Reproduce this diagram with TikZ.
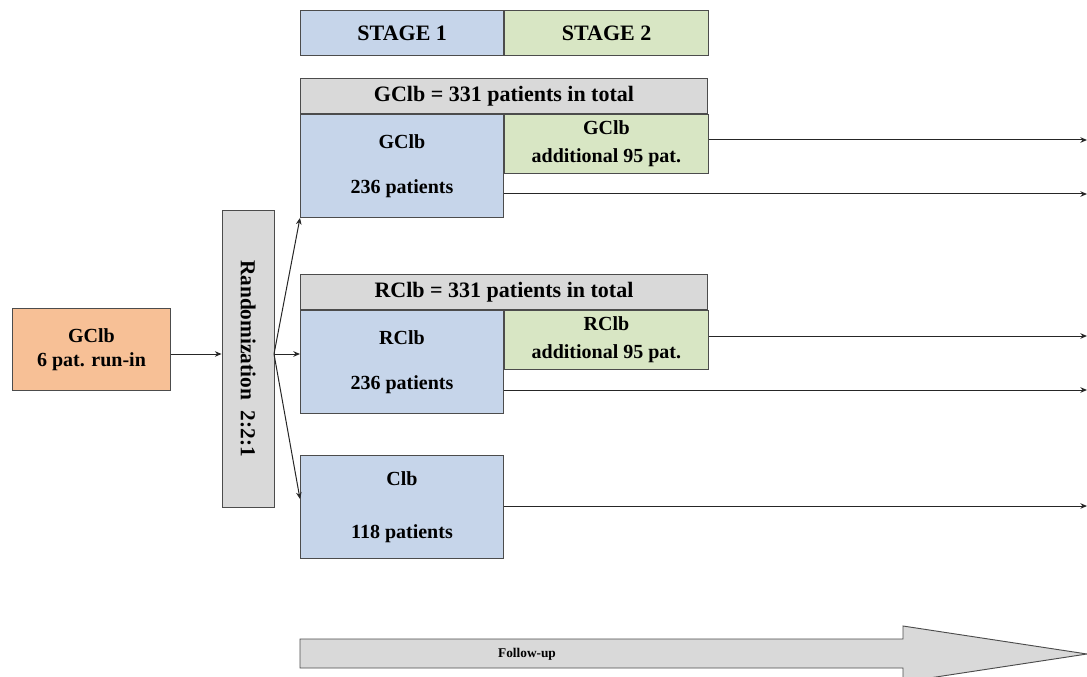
\documentclass[tikz,border=0pt]{standalone}
\usepackage{fontspec}
\setmainfont{Liberation Serif}
\usetikzlibrary{calc,positioning,arrows.meta}
\tikzset{>={Stealth[length=5pt,width=4.2pt]}}
\definecolor{stageblue}{HTML}{C6D5EA}
\definecolor{stagegreen}{HTML}{D8E6C4}
\definecolor{boxgray}{HTML}{D9D9D9}
\definecolor{runorange}{HTML}{F7C096}
\begin{document}
\begin{tikzpicture}[x=0.75pt,y=-0.75pt,
    box/.style={draw=black!70,line width=0.7pt,inner sep=0pt,align=center,font=\fontsize{15}{18}\selectfont\bfseries},
    stagebox/.style={box,minimum width=152.6pt,minimum height=33.75pt,font=\fontsize{16.5}{19}\selectfont\bfseries},
    headbox/.style={box,fill=boxgray,minimum width=305.25pt,minimum height=26.25pt,anchor=north west,font=\fontsize{16.5}{19}\selectfont\bfseries},
    oneblue/.style={box,fill=stageblue,minimum width=152.25pt,minimum height=77.25pt,anchor=north west},
    twogreen/.style={box,fill=stagegreen,minimum width=153pt,minimum height=44.25pt,anchor=north west},
    link/.style={line width=0.75pt,black!85,->}]
  \useasboundingbox (0,0) rectangle (1087,677);

  % legend
  \node[stagebox,fill=stageblue,anchor=north west] (st1) at (300,10) {STAGE 1};
  \node[stagebox,fill=stagegreen,anchor=north west] (st2) at (st1.north east) {STAGE 2};

  % GClb arm
  \node[headbox] (gh) at (300,78) {GClb = 331 patients in total};
  \node[oneblue] (gb) at (gh.south west) {GClb\\[16pt]236 patients};
  \node[twogreen] (gg) at (gb.north east) {GClb\\[3pt]additional 95 pat.};

  % RClb arm
  \node[headbox] (rh) at (300,274) {RClb = 331 patients in total};
  \node[oneblue] (rb) at (rh.south west) {RClb\\[16pt]236 patients};
  \node[twogreen] (rg) at (rb.north east) {RClb\\[3pt]additional 95 pat.};

  % Clb arm
  \node[oneblue] (cb) at (300,455) {Clb\\[22pt]118 patients};

  % run-in and randomization
  \node[box,fill=runorange,minimum width=118.5pt,minimum height=61.5pt,anchor=north west] (runin) at (12,308) {GClb\\6 pat. run-in};
  \node[box,fill=boxgray,minimum width=39pt,minimum height=222.75pt,font=\fontsize{16}{19}\selectfont\bfseries] (rand) at (248,358.5) {\rotatebox{-90}{Randomization\ \ 2:2:1}};
  \coordinate (fork) at (274,354);

  \draw[link] (runin.east |- fork) -- (rand.west |- fork);
  \draw[link] (fork) -- (gb.south west);
  \draw[link] (fork) -- (fork -| rb.west);
  \draw[link] (fork) -- ($(cb.west)+(0,-8)$);

  % follow-up lines
  \coordinate (g1) at (1087,140);
  \coordinate (g2) at (1087,194);
  \coordinate (r1) at (1087,336);
  \coordinate (r2) at (1087,390);
  \coordinate (c1) at (1087,506);
  \draw[link] (gg.east |- g1) -- (g1);
  \draw[link] (gb.east |- g2) -- (g2);
  \draw[link] (rg.east |- r1) -- (r1);
  \draw[link] (rb.east |- r2) -- (r2);
  \draw[link] (cb.east |- c1) -- (c1);

  % follow-up arrow
  \draw[draw=black!70,line width=0.7pt,fill=boxgray] (300,639) -- (903,639) -- (903,626) -- (1087,654)
    -- (903,682) -- (903,668) -- (300,668) -- cycle;
  \node[font=\fontsize{10}{12}\selectfont\bfseries] (fu) at (527,654) {Follow-up};
\end{tikzpicture}
\end{document}
